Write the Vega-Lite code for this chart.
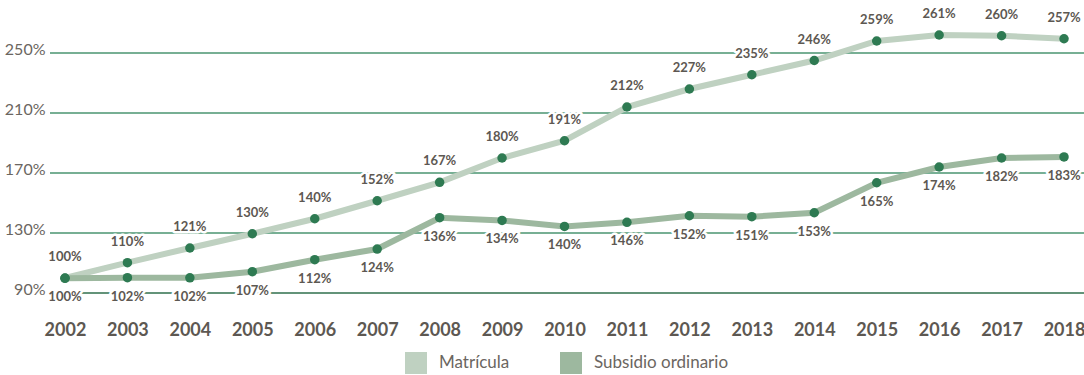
{
  "$schema": "https://vega.github.io/schema/vega-lite/v6.json",
  "width": 1034,
  "height": 270,
  "autosize": {"type": "none"},
  "padding": {"left": 50, "top": 23, "right": 0, "bottom": 82},
  "background": "white",
  "config": {"view": {"stroke": null}, "font": "Lato"},
  "datasets": {
    "series": [
      {"year": 2002, "series": "Matrícula", "value": 100, "label": "100%"},
      {"year": 2003, "series": "Matrícula", "value": 110.2, "label": "110%"},
      {"year": 2004, "series": "Matrícula", "value": 120, "label": "121%"},
      {"year": 2005, "series": "Matrícula", "value": 129.5, "label": "130%"},
      {"year": 2006, "series": "Matrícula", "value": 139.5, "label": "140%"},
      {"year": 2007, "series": "Matrícula", "value": 151.5, "label": "152%"},
      {"year": 2008, "series": "Matrícula", "value": 163.8, "label": "167%"},
      {"year": 2009, "series": "Matrícula", "value": 180, "label": "180%"},
      {"year": 2010, "series": "Matrícula", "value": 191.5, "label": "191%"},
      {"year": 2011, "series": "Matrícula", "value": 214, "label": "212%"},
      {"year": 2012, "series": "Matrícula", "value": 226, "label": "227%"},
      {"year": 2013, "series": "Matrícula", "value": 235.5, "label": "235%"},
      {"year": 2014, "series": "Matrícula", "value": 245, "label": "246%"},
      {"year": 2015, "series": "Matrícula", "value": 258, "label": "259%"},
      {"year": 2016, "series": "Matrícula", "value": 262, "label": "261%"},
      {"year": 2017, "series": "Matrícula", "value": 261.5, "label": "260%"},
      {"year": 2018, "series": "Matrícula", "value": 259.5, "label": "257%"},
      {"year": 2002, "series": "Subsidio ordinario", "value": 99.8, "label": "100%"},
      {"year": 2003, "series": "Subsidio ordinario", "value": 100.2, "label": "102%"},
      {"year": 2004, "series": "Subsidio ordinario", "value": 100.1, "label": "102%"},
      {"year": 2005, "series": "Subsidio ordinario", "value": 104.2, "label": "107%"},
      {"year": 2006, "series": "Subsidio ordinario", "value": 112.2, "label": "112%"},
      {"year": 2007, "series": "Subsidio ordinario", "value": 119.3, "label": "124%"},
      {"year": 2008, "series": "Subsidio ordinario", "value": 140.2, "label": "136%"},
      {"year": 2009, "series": "Subsidio ordinario", "value": 138.4, "label": "134%"},
      {"year": 2010, "series": "Subsidio ordinario", "value": 134.4, "label": "140%"},
      {"year": 2011, "series": "Subsidio ordinario", "value": 137.1, "label": "146%"},
      {"year": 2012, "series": "Subsidio ordinario", "value": 141.5, "label": "152%"},
      {"year": 2013, "series": "Subsidio ordinario", "value": 140.9, "label": "151%"},
      {"year": 2014, "series": "Subsidio ordinario", "value": 143.5, "label": "153%"},
      {"year": 2015, "series": "Subsidio ordinario", "value": 163.5, "label": "165%"},
      {"year": 2016, "series": "Subsidio ordinario", "value": 174, "label": "174%"},
      {"year": 2017, "series": "Subsidio ordinario", "value": 180, "label": "182%"},
      {"year": 2018, "series": "Subsidio ordinario", "value": 180.7, "label": "183%"}
    ],
    "gridlines": [{"value": 90}, {"value": 130}, {"value": 170}, {"value": 210}, {"value": 250}]
  },
  "layer": [
    {
      "data": {"name": "gridlines"},
      "mark": {"type": "rule", "strokeWidth": 1.3},
      "encoding": {
        "y": {"field": "value", "type": "quantitative",
          "scale": {"domain": [90, 270], "nice": false, "zero": false},
          "axis": {"title": null, "values": [90,130,170,210,250], "labelExpr": "datum.value + '%'",
            "grid": false, "ticks": false, "tickSize": 0, "domain": false,
            "labelFont": "Lato", "labelFontSize": 16, "labelFontWeight": "normal", "labelColor": "#6b6661",
            "labelBaseline": "middle", "labelOffset": -4, "labelPadding": 5}},
        "color": {"condition": {"test": "datum.value == 90", "value": "#2f6f4c"}, "value": "#4a9470"}
      }
    },
    {
      "data": {"name": "series"},
      "encoding": {
        "x": {"field": "year", "type": "quantitative",
          "scale": {"domain": [2001.76, 2018.32], "nice": false, "zero": false},
          "axis": {"title": null, "values": [2002,2003,2004,2005,2006,2007,2008,2009,2010,2011,2012,2013,2014,2015,2016,2017,2018],
            "format": "d", "grid": false, "ticks": false, "tickSize": 0, "domain": false,
            "labelFont": "Lato", "labelFontSize": 18, "labelFontWeight": "bold", "labelColor": "#5d5852",
            "labelBaseline": "alphabetic", "labelPadding": 42, "labelFlush": false}},
        "y": {"field": "value", "type": "quantitative",
          "scale": {"domain": [90, 270], "nice": false, "zero": false},
          "axis": {"title": null, "values": [90,130,170,210,250], "labelExpr": "datum.value + '%'",
            "grid": false, "ticks": false, "tickSize": 0, "domain": false,
            "labelFont": "Lato", "labelFontSize": 16, "labelFontWeight": "normal", "labelColor": "#6b6661",
            "labelBaseline": "middle", "labelOffset": -4, "labelPadding": 5}}
      },
      "layer": [
        {
          "mark": {"type": "line", "strokeWidth": 6},
          "encoding": {
            "color": {"field": "series", "type": "nominal",
              "scale": {"domain": ["Matrícula", "Subsidio ordinario"], "range": ["#bfd1c1", "#9db89f"]},
              "legend": {"title": null, "orient": "none", "legendX": 355, "legendY": 329, "direction": "horizontal",
                "symbolType": "square", "symbolSize": 484, "symbolStrokeWidth": 0,
                "labelFont": "Lato", "labelFontSize": 17, "labelColor": "#6b6661", "labelOffset": 12,
                "columnPadding": 50,
                "encode": {"symbols": {"update": {"fill": {"scale": "color", "field": "value"}, "strokeWidth": {"value": 0}}}}}}
          }
        },
        {
          "mark": {"type": "point", "filled": true, "size": 90, "color": "#2e7a52", "opacity": 1}
        },
        {
          "transform": [{"filter": "datum.series == 'Matrícula'"}],
          "mark": {"type": "text", "dy": -21, "font": "Lato", "fontSize": 13, "fontWeight": "bold", "stroke": "white", "strokeWidth": 5, "strokeJoin": "round"},
          "encoding": {"text": {"field": "label"}}
        },
        {
          "transform": [{"filter": "datum.series == 'Matrícula'"}],
          "mark": {"type": "text", "dy": -21, "font": "Lato", "fontSize": 13, "fontWeight": "bold", "color": "#5d5852"},
          "encoding": {"text": {"field": "label"}}
        },
        {
          "transform": [{"filter": "datum.series == 'Subsidio ordinario'"}],
          "mark": {"type": "text", "dy": 19, "font": "Lato", "fontSize": 13, "fontWeight": "bold", "stroke": "white", "strokeWidth": 5, "strokeJoin": "round"},
          "encoding": {"text": {"field": "label"}}
        },
        {
          "transform": [{"filter": "datum.series == 'Subsidio ordinario'"}],
          "mark": {"type": "text", "dy": 19, "font": "Lato", "fontSize": 13, "fontWeight": "bold", "color": "#5d5852"},
          "encoding": {"text": {"field": "label"}}
        }
      ]
    }
  ]
}
